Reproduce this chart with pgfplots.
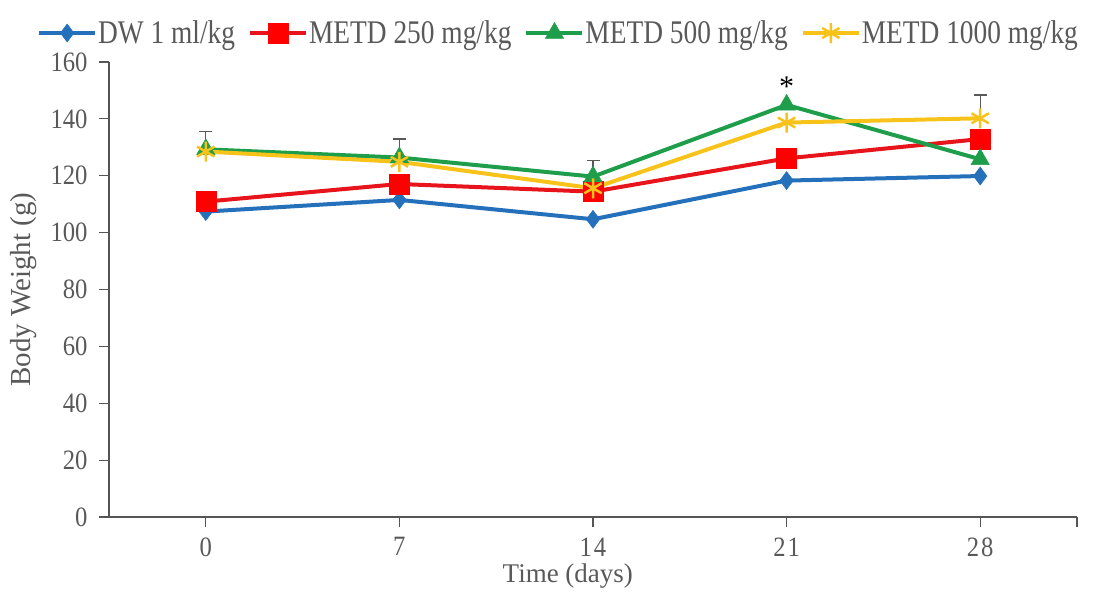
\documentclass[border=0pt]{standalone}
\usepackage{pgfplots}
\pgfplotsset{compat=1.18}
\usepackage{fontspec}
\setmainfont{Liberation Serif}
\newfontfamily\tickfont[FakeStretch=0.88]{Liberation Serif}
\newfontfamily\legfont[FakeStretch=0.83]{Liberation Serif}
\definecolor{cblue}{HTML}{2570BA}
\definecolor{cred}{HTML}{E8141B}
\definecolor{cgreen}{HTML}{1E9E4A}
\definecolor{cyellow}{HTML}{F7C31A}
\definecolor{ctext}{HTML}{595959}
\definecolor{caxis}{HTML}{555555}
\begin{document}
\begin{tikzpicture}
\begin{axis}[
  name=ax,
  width=968bp, height=455bp, scale only axis,
  xmin=-0.5, xmax=4.5, ymin=0, ymax=160,
  clip=false,
  axis lines=left, axis line style={-, draw=caxis, line width=1.2bp},
  xtick={0,1,2,3,4}, xticklabels={0,7,1\kern2bp 4,2\kern2bp 1,2\kern2bp 8},
  extra x ticks={4.5}, extra x tick labels={},
  ytick={0,20,...,160},
  tick align=outside, major tick length=10bp,
  tick style={draw=caxis, line width=1.2bp},
  /pgf/number format/assume math mode=true,
  tick label style={font=\tickfont\fontsize{28bp}{30bp}\selectfont, text=ctext},
  yticklabel style={xshift=-8bp},
  xticklabel style={yshift=-7bp},
  xlabel={Time (days)},
  xlabel style={at={(axis description cs:0.474,-0.145)}, anchor=base, font=\fontsize{27bp}{30bp}\selectfont, text=ctext},
  ylabel={Body Weight (g)},
  ylabel style={at={(axis description cs:-0.0816,0.5)}, anchor=base, rotate=0, font=\fontsize{29bp}{32bp}\selectfont, text=ctext},
  legend columns=4,
  legend style={draw=none, fill=none, at={(axis description cs:-0.0744,1.0637)}, anchor=west,
    font=\legfont\fontsize{33bp}{36bp}\selectfont, text=ctext, inner sep=0pt,
    nodes={inner xsep=1bp, inner ysep=2bp},
    /tikz/every even column/.append style={column sep=12bp}},
  legend image code/.code={\draw[mark repeat=2, mark phase=2, #1] plot coordinates {(0bp,0bp)(28bp,0bp)(56bp,0bp)};},
]
\addplot[only marks, mark=none, forget plot,
  error bars/.cd, y dir=plus, y explicit,
  error bar style={draw=ctext, line width=1.2bp},
  error mark options={rotate=90, draw=ctext, line width=1.2bp, mark size=6.5bp}]
  coordinates {(0,129.3) +- (0,6.2) (1,126.4) +- (0,6.5) (2,119.7) +- (0,5.6) (4,140.2) +- (0,8.2)};
\addplot[cblue, line width=4bp, mark=diamond*, mark size=9bp, mark options={fill=cblue, draw=cblue, line width=0.5bp}]
  coordinates {(0,107.4)(1,111.5)(2,104.7)(3,118.3)(4,119.9)};
\addlegendentry{DW 1 ml/kg}
\addplot[cred, line width=4bp, mark=square*, mark size=10bp, mark options={fill=red, draw=red, line width=0.5bp}]
  coordinates {(0,110.9)(1,117.1)(2,114.4)(3,126.1)(4,132.9)};
\addlegendentry{METD 250 mg/kg}
\addplot[cgreen, line width=4bp, mark=triangle*, mark size=10.5bp, mark options={fill=cgreen, draw=cgreen, line width=0.5bp}]
  coordinates {(0,129.3)(1,126.4)(2,119.7)(3,144.9)(4,125.8)};
\addlegendentry{METD 500 mg/kg}
\addplot[cyellow, line width=4bp, mark=asterisk, mark size=10bp, mark options={draw=cyellow, line width=2.5bp}]
  coordinates {(0,128.5)(1,124.9)(2,115.6)(3,138.7)(4,140.2)};
\addlegendentry{METD 1000 mg/kg}
\node[font=\fontsize{30bp}{32bp}\selectfont, anchor=base, text=black] at (axis cs:3,147.8) {*};
\end{axis}
\pgfresetboundingbox
\path[use as bounding box] ([shift={(-109bp,-85bp)}]ax.south west) rectangle ([shift={(17bp,62bp)}]ax.north east);
\end{tikzpicture}
\end{document}
